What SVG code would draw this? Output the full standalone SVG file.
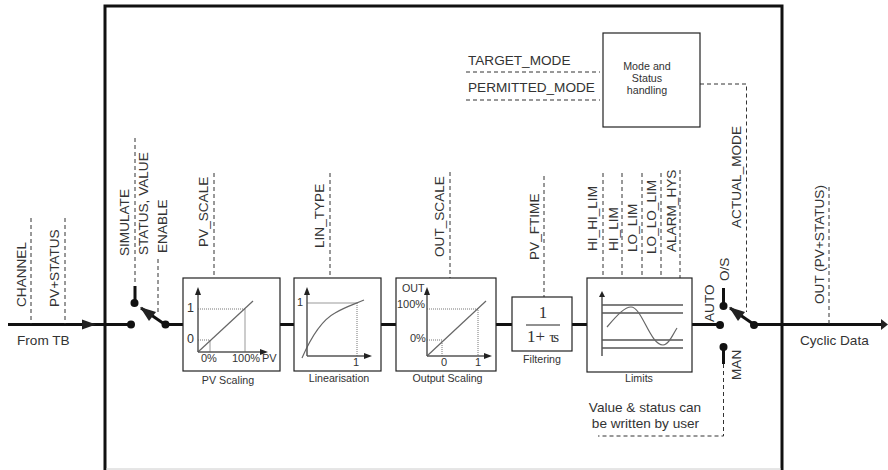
<svg xmlns="http://www.w3.org/2000/svg" width="888" height="470" viewBox="0 0 888 470">
<style>
text{font-family:"Liberation Sans",Arial,sans-serif;font-size:13.6px;fill:#333}
.s{font-size:10.7px}
.x{font-size:11px}
.m{text-anchor:middle}
.f{font-family:"Liberation Serif","Times New Roman",serif;font-size:17px}
.box{fill:#fff;stroke:#222;stroke-width:1.2}
.d{fill:none;stroke:#333;stroke-width:1;stroke-dasharray:4 3}
.w{fill:none;stroke:#111;stroke-width:3}
.g{fill:none;stroke:#666;stroke-width:1.2}
.t{fill:none;stroke:#999;stroke-width:1}
.o{fill:none;stroke:#777;stroke-width:1;stroke-dasharray:1 1}
.a{fill:none;stroke:#555;stroke-width:1.5}
.h{fill:#222}
.n{fill:#111}
</style>
<path id="frame" d="M105 470V6H782V470" fill="none" stroke="#111" stroke-width="3"/>
<path id="frame-bottom" d="M106 469H781" fill="none" stroke="#ccc" stroke-width="1"/>
<g id="connectors">
<path class="w" d="M8 324.500H131M165 324.500H183M280 324.500H294M381 324.500H396M496 324.500H512M572 324.500H587M692 324.500H720M754 324.500H884"/>
<path class="h" d="M82 319.500L96 324.500L82 329.500Z"/>
<path class="h" d="M881 319L888 324.500L881 330Z"/>
<path class="w" d="M135 286V303M723.500 288V306M723.500 347V364"/>
<path class="w" d="M165 324.500L141 308"/>
<path class="h" d="M140 307L156 312L149 321Z"/>
<path class="w" d="M754 324.500L730 308"/>
<path class="h" d="M729 307L745 312L738 321Z"/>
<path class="d" d="M31 218V324M65 218V324M135 138V285M158 259V314M214 173V278M330 173V278M450 172V278M544 176V297M603 173V278M622 173V278M642 173V278M661 173V278M680 170V278M466 72H600M466 100H600M700 84H746.500V312M829 187V324M723.500 364V436H598"/>
</g>
<g id="dots">
<circle class="n" cx="131" cy="324.500" r="4"/><circle class="n" cx="134.500" cy="303" r="4"/><circle class="n" cx="165.500" cy="324.500" r="4"/>
<circle class="n" cx="720" cy="325" r="4"/><circle class="n" cx="723.500" cy="306" r="4"/><circle class="n" cx="723.500" cy="347" r="4"/><circle class="n" cx="754" cy="325" r="4"/>
</g>
<g id="pv-scaling">
<rect class="box" x="183" y="278" width="97" height="93"/>
<path class="o" d="M198 309H245M198 340H210"/><path class="t" d="M210 340V352M245 309V352"/>
<path class="g" d="M198 352L253 301"/>
<path class="a" d="M198 352V292M198 352H264"/>
<path class="h" d="M198 287L195 295H201ZM268 352L260 349V355Z"/>
<text x="187" y="312" class="x" style="font-size:12.500px">1</text><text x="187" y="343" class="x" style="font-size:12.500px">0</text>
<text x="201" y="362" class="x">0%</text><text x="232" y="362" class="x">100%</text><text x="262" y="362" class="x">PV</text>
<text class="s m" x="228" y="384">PV Scaling</text>
</g>
<g id="linearisation">
<rect class="box" x="294" y="278" width="87" height="93"/>
<path class="t" d="M307 303H357"/><path class="o" d="M357 303V356"/>
<path class="g" d="M302 358C312 335 322 320 335 313C345 307 355 304 364 300"/>
<path class="a" d="M307 356V292M307 356H367"/>
<path class="h" d="M307 287L304 295H310ZM372 356L364 353V359Z"/>
<text x="297" y="306" class="x">1</text><text x="353" y="366" class="x">1</text>
<text class="s m" x="339" y="382">Linearisation</text>
</g>
<g id="output-scaling">
<rect class="box" x="396" y="278" width="100" height="93"/>
<path class="o" d="M427 309H478V356M427 340H442V356"/>
<path class="g" d="M427 356L486 301"/>
<path class="a" d="M427 356V292M427 356H488"/>
<path class="h" d="M427 287L424 295H430ZM492 356L484 353V359Z"/>
<text x="402" y="292" class="s">OUT</text><text x="397" y="308" class="x">100%</text><text x="410" y="342" class="x">0%</text>
<text x="441" y="366" class="x">0</text><text x="475" y="366" class="x">1</text>
<text class="s m" x="447.500" y="382">Output Scaling</text>
</g>
<g id="filtering">
<rect class="box" x="512" y="297" width="60" height="54"/>
<path fill="none" stroke="#222" d="M526 325H560"/>
<text class="f m" x="543" y="318">1</text>
<text class="f" x="527" y="342">1+ <tspan style="font-size:15px;letter-spacing:-2px">τs</tspan></text>
<text class="s m" x="542" y="363">Filtering</text>
</g>
<g id="limits">
<rect class="box" x="587" y="278" width="105" height="94"/>
<path class="a" d="M602 356V296"/>
<path class="h" d="M602 291L599 297H605Z"/>
<path class="a" d="M602 305H683M602 313H683M602 340H683M602 348H683"/>
<path class="g" d="M607 327C618 314 625 307 631 307C642 307 650 345 663 345C669 345 673 334 677 328"/>
<text class="s m" x="639" y="382">Limits</text>
</g>
<g id="mode">
<rect class="box" x="603" y="33" width="97" height="94"/>
<text class="s m" x="647" y="70">Mode and</text><text class="s m" x="647" y="82">Status</text><text class="s m" x="647" y="94">handling</text>
</g>
<g id="labels">
<text x="468" y="65">TARGET_MODE</text><text x="468" y="92">PERMITTED_MODE</text>
<text transform="translate(26 307) rotate(-90)">CHANNEL</text>
<text transform="translate(59 307) rotate(-90)">PV+STATUS</text>
<text transform="translate(129 256) rotate(-90)">SIMULATE</text>
<text transform="translate(148 255) rotate(-90)">STATUS, VALUE</text>
<text transform="translate(167 253) rotate(-90)">ENABLE</text>
<text transform="translate(208 247) rotate(-90)">PV_SCALE</text>
<text transform="translate(324 248) rotate(-90)">LIN_TYPE</text>
<text transform="translate(444 257) rotate(-90)">OUT_SCALE</text>
<text transform="translate(539 260) rotate(-90)">PV_FTIME</text>
<text transform="translate(597 251) rotate(-90)">HI_HI_LIM</text>
<text transform="translate(618 251) rotate(-90)">HI_LIM</text>
<text transform="translate(637 252) rotate(-90)">LO_LIM</text>
<text transform="translate(656 254) rotate(-90)">LO_LO_LIM</text>
<text transform="translate(676 252) rotate(-90)">ALARM_HYS</text>
<text transform="translate(741 228) rotate(-90)">ACTUAL_MODE</text>
<text transform="translate(824 304) rotate(-90)">OUT (PV+STATUS)</text>
<text transform="translate(714 322) rotate(-90)">AUTO</text>
<text transform="translate(729 281) rotate(-90)">O/S</text>
<text transform="translate(741 380) rotate(-90)">MAN</text>
<text x="17" y="345">From TB</text><text x="800" y="345">Cyclic Data</text>
<text class="m" x="645" y="412">Value &amp; status can</text><text class="m" x="645.500" y="428">be written by user</text>
</g>
</svg>
